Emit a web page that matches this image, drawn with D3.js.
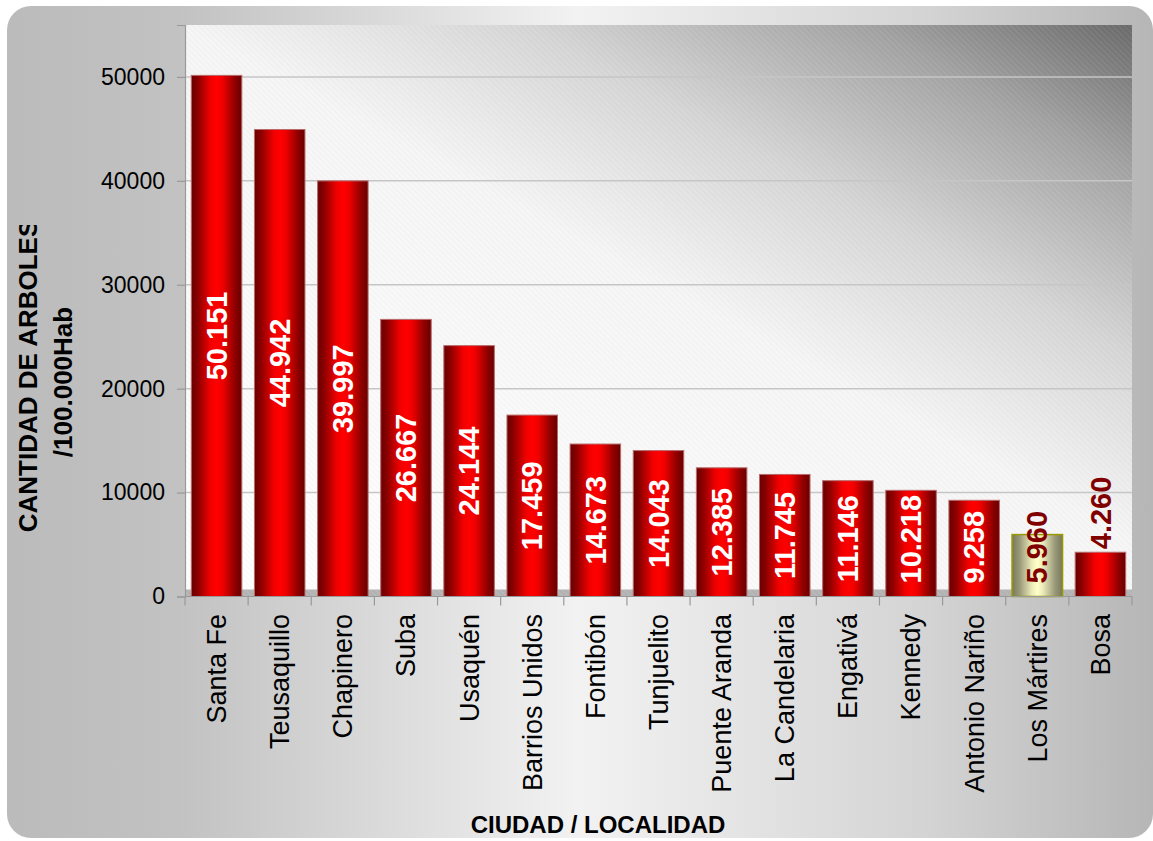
<!DOCTYPE html>
<html lang="es">
<head>
<meta charset="utf-8">
<title>Cantidad de árboles por 100.000 habitantes</title>
<script src="https://cdn.jsdelivr.net/npm/d3@7"></script>
<style>
  body { margin: 0; background: #fff; font-family: "Liberation Sans", Arial, sans-serif; }
  svg { display: block; }
</style>
</head>
<body>
<div id="chart"></div>
<script>
// datos
var localidades = ["Santa Fe", "Teusaquillo", "Chapinero", "Suba", "Usaquén", "Barrios Unidos",
  "Fontibón", "Tunjuelito", "Puente Aranda", "La Candelaria", "Engativá", "Kennedy",
  "Antonio Nariño", "Los Mártires", "Bosa"];
var arboles = [50151, 44942, 39997, 26667, 24144, 17459, 14673, 14043, 12385, 11745, 11146, 10218, 9258, 5960, 4260];
var yTicks = [0, 10000, 20000, 30000, 40000, 50000];
var destacada = "Los Mártires";

var W = 1153, H = 841;
var plot = {left: 185, right: 1132, top: 25, bottom: 596.5};

var svg = d3.select("#chart").append("svg").attr("width", W).attr("height", H);
var defs = svg.append("defs");

// fondo del marco
var gFrame = defs.append("linearGradient").attr("id", "frameGrad")
  .attr("x1", 0).attr("y1", 0).attr("x2", 1).attr("y2", 0);
[[0, "#bbbbbb"], [0.15, "#c2c2c2"], [0.5, "#f2f2f2"], [0.8, "#d4d4d4"], [1, "#b6b6b6"]].forEach(function(s) {
  gFrame.append("stop").attr("offset", s[0]).attr("stop-color", s[1]);
});

// fondo del area de trazado (claro abajo-izq, oscuro arriba-der)
var gPlot = defs.append("linearGradient").attr("id", "plotGrad")
  .attr("x1", 0.1).attr("y1", 1).attr("x2", 1).attr("y2", 0);
[[0, "#ffffff"], [0.5, "#f6f6f6"], [0.68, "#d6d6d6"], [0.86, "#a2a2a2"], [1, "#6a6a6a"]].forEach(function(s) {
  gPlot.append("stop").attr("offset", s[0]).attr("stop-color", s[1]);
});

var hatch = defs.append("pattern").attr("id", "hatch")
  .attr("patternUnits", "userSpaceOnUse").attr("width", 4).attr("height", 4)
  .attr("patternTransform", "rotate(-45)");
hatch.append("line").attr("x1", 0).attr("y1", 0).attr("x2", 0).attr("y2", 4)
  .attr("stroke", "#ffffff").attr("stroke-opacity", 0.14).attr("stroke-width", 1.2);
hatch.append("line").attr("x1", 2).attr("y1", 0).attr("x2", 2).attr("y2", 4)
  .attr("stroke", "#808080").attr("stroke-opacity", 0.06).attr("stroke-width", 1);

function barGrad(id, stops) {
  var g = defs.append("linearGradient").attr("id", id)
    .attr("x1", 0).attr("y1", 0).attr("x2", 1).attr("y2", 0);
  stops.forEach(function(s) { g.append("stop").attr("offset", s[0]).attr("stop-color", s[1]); });
}
barGrad("redGrad", [[0, "#6a0000"], [0.12, "#880000"], [0.38, "#f00000"], [0.5, "#ff0000"],
  [0.62, "#f00000"], [0.88, "#880000"], [1, "#6a0000"]]);
barGrad("khakiGrad", [[0, "#77775a"], [0.15, "#99997a"], [0.4, "#eeeebb"], [0.5, "#ffffcc"],
  [0.6, "#eeeebb"], [0.85, "#99997a"], [1, "#77775a"]]);

// marco redondeado
svg.append("rect").attr("x", 7).attr("y", 6).attr("width", 1146).attr("height", 832)
  .attr("rx", 24).attr("fill", "url(#frameGrad)");

// area de trazado
svg.append("rect").attr("x", plot.left).attr("y", plot.top)
  .attr("width", plot.right - plot.left).attr("height", plot.bottom - plot.top)
  .attr("fill", "url(#plotGrad)");
svg.append("rect").attr("x", plot.left).attr("y", plot.top)
  .attr("width", plot.right - plot.left).attr("height", plot.bottom - plot.top)
  .attr("fill", "url(#hatch)");

var x = d3.scaleBand().domain(localidades).range([plot.left, plot.right])
  .paddingInner(0.2).paddingOuter(0.1);
var y = d3.scaleLinear().domain([0, 55000]).range([plot.bottom, plot.top]);

// lineas de division
svg.append("g").selectAll("line").data(yTicks.filter(function(d) { return d > 0; }))
  .enter().append("line")
  .attr("x1", plot.left).attr("x2", plot.right)
  .attr("y1", function(d) { return y(d); }).attr("y2", function(d) { return y(d); })
  .attr("stroke", "#c6c6c6").attr("stroke-width", 1.5);

// piso gris
svg.append("rect").attr("x", plot.left).attr("y", plot.bottom - 7)
  .attr("width", plot.right - plot.left).attr("height", 7).attr("fill", "#b4b4b4");
svg.append("rect").attr("x", plot.left).attr("y", plot.bottom - 7)
  .attr("width", plot.right - plot.left).attr("height", 7).attr("fill", "url(#hatch)");

// eje Y
var yAxis = svg.append("g").attr("transform", "translate(" + plot.left + ",0)")
  .call(d3.axisLeft(y).tickValues(yTicks).tickSize(8).tickPadding(12).tickFormat(d3.format("d")));
yAxis.select(".domain").attr("stroke", "#999").attr("stroke-width", 1.2);
yAxis.selectAll(".tick line").attr("stroke", "#999").attr("stroke-width", 1.2);
yAxis.selectAll(".tick text").attr("fill", "#000")
  .style("font-family", "'Liberation Sans', Arial, sans-serif").style("font-size", "23px");

// barras
var formato = d3.formatLocale({decimal: ",", thousands: ".", grouping: [3], currency: ["", ""]}).format(",d");
var datos = localidades.map(function(l, i) { return {loc: l, val: arboles[i]}; });

svg.append("g").selectAll("rect").data(datos).enter().append("rect")
  .attr("x", function(d) { return x(d.loc); })
  .attr("y", function(d) { return y(d.val); })
  .attr("width", x.bandwidth())
  .attr("height", function(d) { return plot.bottom - y(d.val); })
  .attr("fill", function(d) { return d.loc === destacada ? "url(#khakiGrad)" : "url(#redGrad)"; })
  .attr("stroke", function(d) { return d.loc === destacada ? "#999900" : "#b86a6a"; })
  .attr("stroke-width", function(d) { return d.loc === destacada ? 1.5 : 1; });

// eje X: linea y marcas en los limites de cada banda
var ejeX = svg.append("g");
ejeX.append("line").attr("x1", plot.left).attr("x2", plot.right)
  .attr("y1", plot.bottom).attr("y2", plot.bottom).attr("stroke", "#999").attr("stroke-width", 1.2);
var limites = [plot.left].concat(localidades.map(function(l) { return x(l) + x.bandwidth() + x.step() * 0.1; }));
ejeX.selectAll(".lim").data(limites).enter().append("line")
  .attr("x1", function(d) { return d; }).attr("x2", function(d) { return d; })
  .attr("y1", plot.bottom).attr("y2", plot.bottom + 9)
  .attr("stroke", "#999").attr("stroke-width", 1.2);

ejeX.selectAll(".cat").data(localidades).enter().append("text")
  .attr("transform", function(d) { return "translate(" + (x(d) + x.bandwidth() / 2) + ",614) rotate(-90)"; })
  .attr("text-anchor", "end").attr("dy", "0.35em")
  .style("font-size", "27px").attr("fill", "#000")
  .text(function(d) { return d; });

// etiquetas de valor
var etiquetas = svg.append("g").selectAll("text").data(datos).enter().append("text")
  .style("font-size", "29px").style("font-weight", "bold")
  .attr("dy", "0.35em")
  .text(function(d) { return formato(d.val); });

etiquetas.each(function(d) {
  var t = d3.select(this);
  var len = this.getComputedTextLength();
  var top = y(d.val), alto = plot.bottom - top;
  var cx = x(d.loc) + x.bandwidth() / 2;
  if (alto >= len * 0.8) {
    var cy = Math.min((top + plot.bottom) / 2, plot.bottom - 13 - len / 2);
    t.attr("text-anchor", "middle")
      .attr("transform", "translate(" + cx + "," + cy + ") rotate(-90)")
      .attr("fill", d.loc === destacada ? "#800000" : "#ffffff");
  } else {
    t.attr("text-anchor", "start")
      .attr("transform", "translate(" + cx + "," + (top - 3) + ") rotate(-90)")
      .attr("fill", "#800000");
  }
});

// titulos
var clip = defs.append("clipPath").attr("id", "clipY");
clip.append("rect").attr("x", 0).attr("y", 225).attr("width", 120).attr("height", 600);

var tituloY = svg.append("g").attr("clip-path", "url(#clipY)");
tituloY.append("text")
  .attr("transform", "translate(37,376) rotate(-90)")
  .attr("text-anchor", "middle")
  .style("font-size", "26px").style("font-weight", "bold")
  .text("CANTIDAD DE ARBOLES");
tituloY.append("text")
  .attr("transform", "translate(72,382) rotate(-90)")
  .attr("text-anchor", "middle")
  .style("font-size", "26px").style("font-weight", "bold")
  .text("/100.000Hab");

svg.append("text").attr("x", 598).attr("y", 833)
  .attr("text-anchor", "middle")
  .style("font-size", "24px").style("font-weight", "bold")
  .text("CIUDAD / LOCALIDAD");
</script>
</body>
</html>
